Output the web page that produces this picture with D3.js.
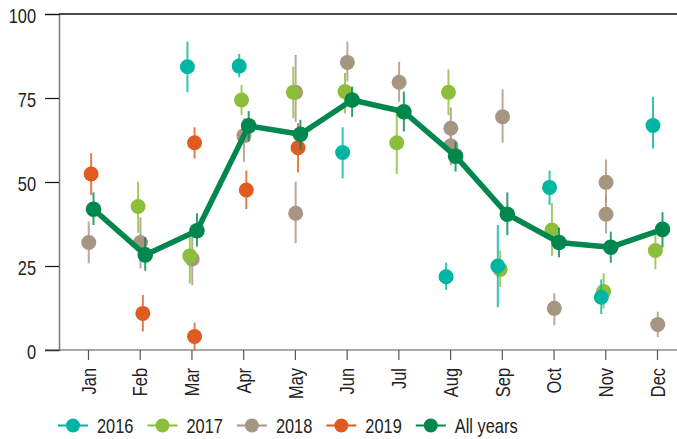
<!DOCTYPE html>
<html>
<head>
<meta charset="utf-8">
<script src="https://cdn.jsdelivr.net/npm/d3@7"></script>
<style>
	body { margin: 0; background: #fff; }
	svg { display: block; }
	text { font-family: "Liberation Sans", Arial, sans-serif; fill: #222; }
</style>
</head>
<body>
<svg></svg>
<script>
var months = ['Jan', 'Feb', 'Mar', 'Apr', 'May', 'Jun', 'Jul', 'Aug', 'Sep', 'Oct', 'Nov', 'Dec']
var seriesNames = ['2016', '2017', '2018', '2019', 'All years']
var yTicks = [0, 25, 50, 75, 100]

// [month, value, low, high]
var y2016 = [
	['Mar', 84.3, 76.7, 91.8], ['Apr', 84.5, 81.2, 88.1], ['Jun', 58.8, 51.1, 66.3],
	['Aug', 21.8, 17.9, 26.0], ['Sep', 25.0, 12.7, 37.2], ['Oct', 48.4, 43.2, 53.4],
	['Nov', 15.7, 10.7, 21.0], ['Dec', 66.8, 60.0, 75.4]
]
var y2017 = [
	['Feb', 42.7, 34.9, 50.1], ['Mar', 28.0, 19.8, 35.2], ['Apr', 74.4, 69.9, 78.9],
	['May', 76.7, 69.0, 84.3], ['Jun', 76.9, 70.4, 82.5], ['Jul', 61.7, 52.4, 71.4],
	['Aug', 76.7, 69.9, 83.5], ['Sep', 24.0, 18.8, 29.6], ['Oct', 35.7, 28.0, 43.7],
	['Nov', 17.4, 12.4, 22.8], ['Dec', 29.6, 24.0, 34.7]
]
var y2018 = [
	['Jan', 32.0, 25.8, 38.2], ['Feb', 32.0, 24.3, 39.5], ['Mar', 27.1, 19.3, 34.2],
	['Apr', 63.8, 56.0, 69.0], ['May', 76.7, 67.9, 87.8], ['May', 40.7, 31.8, 50.1],
	['Jun', 85.6, 79.9, 91.8], ['Jul', 79.7, 73.9, 85.8], ['Aug', 66.0, 60.5, 72.2],
	['Aug', 60.8, 55.1, 66.0], ['Sep', 69.4, 61.7, 77.6], ['Oct', 12.4, 7.4, 16.9],
	['Nov', 49.9, 44.0, 56.7], ['Nov', 40.4, 34.7, 46.0], ['Dec', 7.6, 3.8, 11.4]
]
var y2019 = [
	['Jan', 52.4, 46.1, 58.6], ['Feb', 10.9, 5.5, 16.4], ['Mar', 61.7, 57.0, 66.3],
	['Mar', 4.0, 0.0, 8.1], ['Apr', 47.6, 41.9, 53.4], ['May', 60.2, 52.8, 67.5]
]
var allYears = [
	['Jan', 41.9, 37.2, 46.9], ['Feb', 28.3, 23.6, 33.5], ['Mar', 35.5, 30.8, 40.7],
	['Apr', 66.7, 62.0, 71.1], ['May', 64.2, 59.5, 68.5], ['Jun', 74.4, 69.4, 78.4],
	['Jul', 70.9, 65.0, 76.9], ['Aug', 57.7, 53.1, 62.0], ['Sep', 40.4, 34.2, 46.9],
	['Oct', 32.0, 27.6, 36.4], ['Nov', 30.6, 26.0, 35.2], ['Dec', 35.9, 30.5, 41.0]
]

function main() {
	var W = 677, H = 439
	var margin = { top: 14, left: 59, bottom: 89 }
	var plotBottom = H - margin.bottom
	var narrow = 0.82 // squeeze text to look like a narrow face

	var colors = {
		'2016': '#00b5a1',
		'2017': '#8cbe3c',
		'2018': '#a69581',
		'2019': '#df5b20',
		'All years': '#00874d'
	}
	var dataBySeries = {
		'2016': y2016,
		'2017': y2017,
		'2018': y2018,
		'2019': y2019,
		'All years': allYears
	}

	var svg = d3.select('svg')
		.attr('width', W)
		.attr('height', H)

	var xScale = d3.scalePoint()
		.domain(months)
		.range([88, 657])

	// small dodge of each series inside a month
	var dodge = d3.scalePoint()
		.domain(seriesNames)
		.range([-4, 5.5])

	var yScale = d3.scaleLinear()
		.domain([0, 100])
		.range([plotBottom, margin.top])

	// axis-y
	var yAxis = svg.append('g')
		.attr('transform', 'translate(' + margin.left + ',0)')
		.call(d3.axisLeft(yScale).tickValues(yTicks).tickSize(14))
	yAxis.select('.domain').attr('stroke', '#777').attr('stroke-width', 1.5)
	yAxis.selectAll('.tick line').attr('stroke', '#111').attr('stroke-width', 1.2)
	yAxis.selectAll('.tick text')
		.style('font-size', '20px')
		.attr('fill', '#222')
		.attr('x', 0)
		.attr('dy', '0.42em')
		.attr('transform', 'translate(-23,0) scale(' + narrow + ',1)')

	// top border at 100
	svg.append('line')
		.attr('x1', margin.left)
		.attr('x2', W)
		.attr('y1', yScale(100))
		.attr('y2', yScale(100))
		.attr('stroke', '#111')
		.attr('stroke-width', 1.5)

	// axis-x
	var xAxis = svg.append('g')
		.attr('transform', 'translate(0,' + plotBottom + ')')
		.call(d3.axisBottom(xScale).tickSize(10).tickSizeOuter(0))
	xAxis.select('.domain').remove()
	xAxis.selectAll('.tick line').attr('stroke', '#555').attr('stroke-width', 1.2)
	xAxis.selectAll('.tick text')
		.style('font-size', '20px')
		.attr('fill', '#222')
		.attr('text-anchor', 'end')
		.attr('transform', 'translate(0,18) rotate(-90) scale(' + narrow + ',1)')
		.attr('x', 0)
		.attr('y', 0)
		.attr('dy', '0.36em')
	svg.append('line')
		.attr('x1', margin.left - 14)
		.attr('x2', W)
		.attr('y1', plotBottom)
		.attr('y2', plotBottom)
		.attr('stroke', '#555')
		.attr('stroke-width', 1.2)

	function px(d, name) {
		return xScale(d[0]) + dodge(name)
	}

	var drawOrder = ['2019', '2018', '2017', '2016', 'All years']

	drawOrder.forEach(function (name) {
		var data = dataBySeries[name]
		var g = svg.append('g')

		if (name == 'All years') {
			var valueline = d3.line()
				.x(function (d) { return px(d, name) })
				.y(function (d) { return yScale(d[1]) })
			g.append('path')
				.datum(data)
				.attr('fill', 'none')
				.attr('stroke', colors[name])
				.attr('stroke-width', 5.5)
				.attr('stroke-linejoin', 'round')
				.attr('d', valueline)
		}

		g.selectAll('line.err')
			.data(data)
			.enter().append('line')
			.attr('class', 'err')
			.attr('x1', function (d) { return px(d, name) })
			.attr('x2', function (d) { return px(d, name) })
			.attr('y1', function (d) { return yScale(d[2]) })
			.attr('y2', function (d) { return yScale(d[3]) })
			.attr('stroke', colors[name])
			.attr('stroke-opacity', 0.8)
			.attr('stroke-width', 2)

		g.selectAll('circle')
			.data(data)
			.enter().append('circle')
			.attr('r', name == 'All years' ? 7.8 : 7.5)
			.attr('fill', colors[name])
			.attr('cx', function (d) { return px(d, name) })
			.attr('cy', function (d) { return yScale(d[1]) })
	})

	// legend
	var legend = svg.append('g')
		.attr('transform', 'translate(58,425.5)')
	var lx = 0
	seriesNames.forEach(function (name) {
		var item = legend.append('g').attr('transform', 'translate(' + lx + ',0)')
		item.append('line')
			.attr('x1', 0).attr('x2', 30)
			.attr('stroke', colors[name])
			.attr('stroke-width', 2)
		item.append('circle')
			.attr('cx', 15)
			.attr('r', 7)
			.attr('fill', colors[name])
		var t = item.append('text')
			.attr('transform', 'translate(39,0) scale(' + narrow + ',1)')
			.attr('dy', '0.36em')
			.style('font-size', '20px')
			.text(name)
		lx += 39 + t.node().getComputedTextLength() * narrow + 14
	})
}

main()
</script>
</body>
</html>
